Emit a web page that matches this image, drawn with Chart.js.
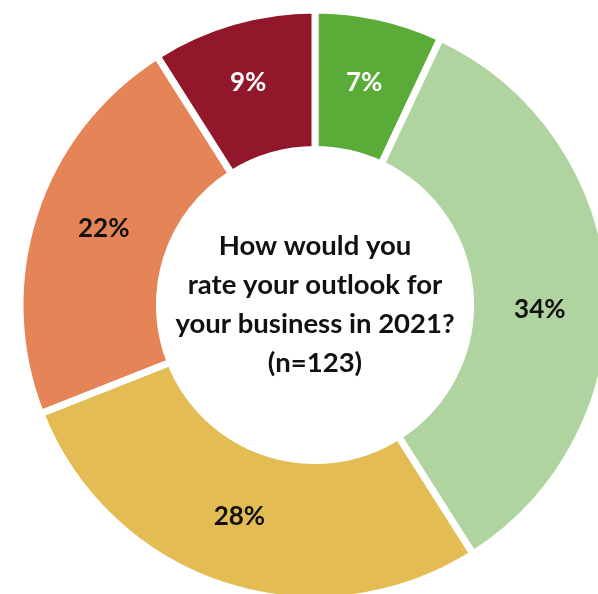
<!DOCTYPE html>
<html>
<head>
<meta charset="utf-8">
<script src="https://cdn.jsdelivr.net/npm/chart.js@4.4.1/dist/chart.umd.min.js"></script>
<style>
  html, body { margin: 0; padding: 0; background: #fff; overflow: hidden; }
  #wrap { position: absolute; left: 0; top: 0; width: 630px; height: 610px; }
</style>
</head>
<body>
<div id="wrap"><canvas id="outlook" width="630" height="610"></canvas></div>
<script>
// reponses, dans l'ordre du haut puis sens horaire
const categories = ["Very positive", "Positive", "Neutral", "Negative", "Very negative"];
const percents = [7, 34, 28, 22, 9];
const couleurs = ["#5aab37", "#afd4a0", "#e3bd53", "#e58456", "#92172b"];
const couleursTexte = ["#ffffff", "#111111", "#111111", "#111111", "#ffffff"];
const titreCentre = ["How would you", "rate your outlook for", "your business in 2021?", "(n=123)"];

const police = "Lato, 'Noto Sans', sans-serif";

// pourcentages dans chaque part (avec un petit decalage a la main) + question au centre
const etiquettes = {
    id: "etiquettes",
    afterDatasetsDraw(chart, args, opts) {
        const ctx = chart.ctx;
        const arcs = chart.getDatasetMeta(0).data;
        ctx.save();
        ctx.textAlign = "center";
        ctx.textBaseline = "middle";
        ctx.font = "bold 26px " + police;
        arcs.forEach((arc, i) => {
            const pos = arc.tooltipPosition();
            const dec = opts.decalages[i] || [0, 0];
            ctx.fillStyle = couleursTexte[i];
            ctx.fillText(percents[i] + "%", pos.x + dec[0], pos.y + dec[1]);
        });

        const cx = arcs[0].x;
        const cy = arcs[0].y;
        const pas = 39;
        ctx.font = "bold 27.5px " + police;
        ctx.fillStyle = "#111111";
        titreCentre.forEach((ligne, i) => {
            ctx.fillText(ligne, cx, cy + (i - (titreCentre.length - 1) / 2) * pas);
        });
        ctx.restore();
    }
};

const ctx = document.getElementById("outlook").getContext("2d");
const monGraph = new Chart(ctx, {
    type: "doughnut",
    data: {
        labels: categories,
        datasets: [{
            data: percents,
            backgroundColor: couleurs,
            borderColor: "#ffffff",
            borderWidth: 7,
            hoverOffset: 0
        }]
    },
    options: {
        responsive: false,
        animation: false,
        radius: 295,
        cutout: 159,
        layout: { padding: 0 },
        plugins: {
            legend: { display: false },
            tooltip: { enabled: false },
            etiquettes: {
                decalages: [[0, -3], [0, 19], [-6, -3], [3, -7], [-4, -6]]
            }
        }
    },
    plugins: [etiquettes]
});
</script>
</body>
</html>
